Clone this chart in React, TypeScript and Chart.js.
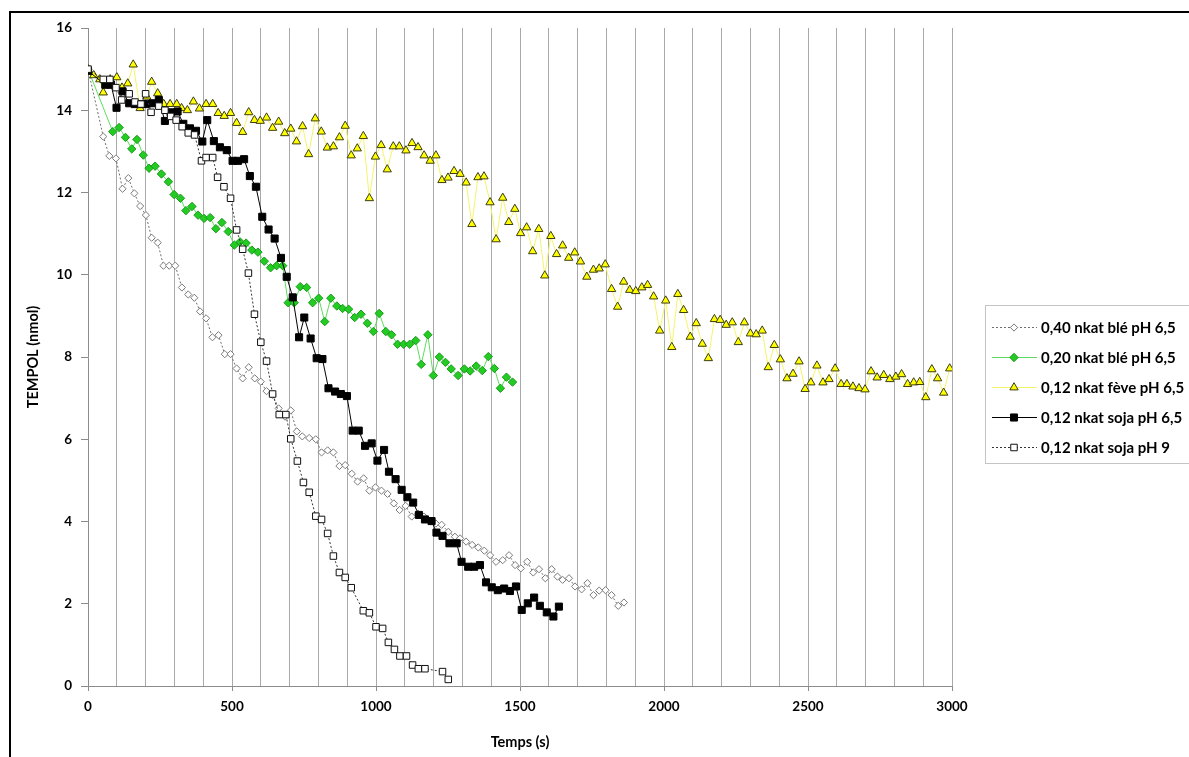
import React, { useEffect, useRef } from "react";
import { Chart, registerables } from "chart.js";

Chart.register(...registerables);

// [time (s), TEMPOL (nmol)]
const ble040: [number, number][] = [
  [0, 15.0], [53, 13.36], [74, 12.89], [97, 12.83], [120, 12.09], [140, 12.35], [161, 11.98], [181, 11.67],
  [201, 11.45], [221, 10.9], [242, 10.78], [262, 10.22], [282, 10.22], [303, 10.22], [326, 9.69], [348, 9.52],
  [369, 9.44], [389, 9.11], [410, 8.94], [432, 8.48], [453, 8.53], [475, 8.07], [495, 8.07], [516, 7.72],
  [537, 7.48], [558, 7.75], [579, 7.48], [600, 7.4], [620, 7.17], [641, 7.08], [662, 6.75], [684, 6.55],
  [704, 6.7], [725, 6.19], [744, 6.07], [768, 6.03], [791, 6.0], [811, 5.68], [832, 5.73], [852, 5.68],
  [873, 5.35], [893, 5.37], [916, 5.16], [936, 4.97], [957, 5.05], [977, 4.75], [998, 4.83], [1019, 4.75],
  [1040, 4.67], [1062, 4.44], [1082, 4.28], [1103, 4.38], [1124, 4.12], [1146, 4.19], [1167, 4.12], [1188, 4.01],
  [1208, 3.95], [1228, 3.92], [1251, 3.75], [1274, 3.63], [1292, 3.59], [1313, 3.51], [1334, 3.43], [1355, 3.37],
  [1376, 3.29], [1396, 3.18], [1417, 3.02], [1440, 3.06], [1462, 3.18], [1483, 2.94], [1503, 2.86], [1525, 3.02],
  [1546, 2.76], [1566, 2.84], [1588, 2.62], [1610, 2.84], [1630, 2.66], [1648, 2.58], [1670, 2.62], [1691, 2.42],
  [1714, 2.35], [1734, 2.5], [1755, 2.21], [1775, 2.32], [1797, 2.33], [1818, 2.21], [1841, 1.95], [1861, 2.03],
];

const ble020: [number, number][] = [
  [0, 15.0], [86, 13.48], [108, 13.58], [130, 13.34], [152, 13.06], [170, 13.29], [192, 12.91], [212, 12.59],
  [233, 12.64], [255, 12.45], [279, 12.26], [299, 11.95], [321, 11.86], [340, 11.56], [361, 11.66], [382, 11.45],
  [403, 11.37], [424, 11.39], [444, 11.12], [465, 11.27], [487, 11.05], [508, 10.72], [528, 10.8], [549, 10.77],
  [569, 10.6], [590, 10.55], [612, 10.33], [634, 10.17], [655, 10.22], [676, 10.22], [695, 9.32], [716, 9.32],
  [737, 9.71], [759, 9.69], [780, 9.32], [801, 9.43], [822, 8.86], [843, 9.43], [864, 9.24], [884, 9.18],
  [905, 9.16], [926, 8.96], [948, 9.04], [970, 8.82], [991, 8.62], [1011, 9.06], [1034, 8.62], [1054, 8.54],
  [1075, 8.31], [1096, 8.31], [1117, 8.31], [1138, 8.4], [1157, 7.82], [1180, 8.54], [1199, 7.55], [1220, 8.0],
  [1241, 7.87], [1261, 7.71], [1285, 7.55], [1307, 7.71], [1327, 7.66], [1348, 7.78], [1369, 7.67], [1390, 8.01],
  [1411, 7.72], [1432, 7.24], [1453, 7.51], [1474, 7.39],
];

const feve012: [number, number][] = [
  [0, 15.0], [20, 14.85], [41, 14.75], [53, 14.43], [77, 14.75], [100, 14.8], [118, 14.55], [138, 14.65],
  [157, 15.11], [181, 14.05], [204, 14.33], [221, 14.69], [242, 14.41], [263, 14.15], [285, 14.15], [308, 14.15],
  [325, 14.05], [345, 14.0], [366, 14.21], [387, 14.04], [410, 14.15], [433, 14.15], [452, 13.93], [473, 13.86],
  [495, 13.93], [516, 13.69], [537, 13.47], [558, 13.95], [578, 13.76], [598, 13.74], [620, 13.82], [641, 13.57],
  [662, 13.72], [683, 13.44], [704, 13.55], [724, 13.24], [745, 13.61], [766, 12.93], [789, 13.8], [810, 13.48],
  [831, 13.09], [852, 13.12], [873, 13.34], [893, 13.62], [914, 12.9], [935, 13.07], [956, 13.37], [977, 11.86],
  [998, 12.87], [1018, 13.15], [1039, 12.56], [1060, 13.12], [1081, 13.12], [1104, 13.02], [1125, 13.2], [1146, 13.1],
  [1167, 12.9], [1188, 12.77], [1208, 12.9], [1229, 12.3], [1250, 12.36], [1271, 12.52], [1292, 12.45], [1313, 12.24],
  [1333, 11.23], [1354, 12.37], [1375, 12.39], [1396, 11.76], [1417, 10.86], [1440, 11.87], [1461, 11.28], [1482, 11.6],
  [1502, 11.01], [1523, 11.15], [1544, 10.57], [1565, 11.11], [1586, 9.98], [1607, 10.94], [1627, 10.5], [1648, 10.71],
  [1669, 10.41], [1690, 10.54], [1710, 10.32], [1732, 9.95], [1755, 10.12], [1775, 10.15], [1796, 10.25], [1818, 9.65],
  [1839, 9.22], [1860, 9.83], [1881, 9.63], [1902, 9.6], [1923, 9.69], [1943, 9.75], [1964, 9.47], [1985, 8.64],
  [2006, 9.37], [2027, 8.24], [2048, 9.53], [2068, 9.14], [2091, 8.49], [2112, 8.82], [2133, 8.32], [2154, 7.97],
  [2175, 8.92], [2195, 8.9], [2216, 8.78], [2237, 8.84], [2258, 8.36], [2279, 8.84], [2300, 8.57], [2320, 8.55],
  [2341, 8.64], [2362, 7.75], [2383, 8.29], [2404, 7.94], [2427, 7.48], [2448, 7.59], [2469, 7.89], [2490, 7.22],
  [2510, 7.38], [2531, 7.79], [2552, 7.38], [2573, 7.46], [2594, 7.72], [2615, 7.34], [2635, 7.34], [2656, 7.28],
  [2677, 7.24], [2698, 7.21], [2719, 7.65], [2740, 7.5], [2763, 7.56], [2784, 7.46], [2805, 7.52], [2825, 7.58],
  [2846, 7.34], [2867, 7.38], [2888, 7.39], [2909, 7.02], [2930, 7.7], [2950, 7.48], [2971, 7.13], [2992, 7.72],
];

const soja65: [number, number][] = [
  [0, 14.96], [60, 14.62], [80, 14.62], [99, 14.06], [120, 14.46], [143, 14.17], [163, 14.15], [184, 14.15],
  [203, 14.15], [224, 14.17], [246, 14.25], [267, 13.74], [287, 13.95], [311, 13.97], [331, 13.67], [354, 13.56],
  [375, 13.5], [397, 13.24], [414, 13.76], [437, 13.25], [458, 13.1], [482, 13.03], [502, 12.77], [521, 12.77],
  [542, 12.81], [562, 12.4], [583, 12.14], [605, 11.41], [627, 11.1], [648, 10.88], [670, 10.41], [690, 9.95],
  [711, 9.45], [733, 8.48], [751, 8.96], [773, 8.45], [794, 7.97], [814, 7.95], [835, 7.24], [858, 7.16],
  [878, 7.1], [899, 7.05], [919, 6.21], [940, 6.21], [962, 5.84], [985, 5.9], [1005, 5.48], [1028, 5.74],
  [1045, 5.21], [1068, 5.03], [1089, 4.77], [1109, 4.59], [1129, 4.46], [1149, 4.16], [1170, 4.05], [1193, 4.01],
  [1210, 3.73], [1231, 3.65], [1255, 3.47], [1280, 3.47], [1297, 3.02], [1320, 2.9], [1341, 2.9], [1361, 2.94],
  [1382, 2.52], [1402, 2.4], [1423, 2.33], [1445, 2.37], [1465, 2.31], [1486, 2.42], [1506, 1.85], [1527, 2.01],
  [1549, 2.15], [1569, 1.95], [1593, 1.79], [1616, 1.69], [1635, 1.93],
];

const soja9: [number, number][] = [
  [0, 15.0], [53, 14.75], [76, 14.75], [97, 14.55], [117, 14.25], [143, 14.4], [163, 14.2], [184, 14.15],
  [200, 14.4], [219, 13.95], [246, 14.1], [267, 14.0], [287, 13.85], [306, 13.76], [327, 13.6], [348, 13.45],
  [370, 13.4], [394, 12.77], [410, 12.85], [433, 12.85], [450, 12.37], [472, 12.14], [495, 11.86], [516, 11.09],
  [537, 10.62], [557, 10.04], [578, 9.04], [600, 8.36], [620, 7.9], [641, 7.1], [664, 6.6], [687, 6.6],
  [704, 6.01], [727, 5.47], [748, 4.95], [768, 4.71], [791, 4.13], [811, 4.05], [832, 3.71], [852, 3.16],
  [873, 2.76], [893, 2.64], [914, 2.39], [956, 1.83], [977, 1.78], [1000, 1.44], [1023, 1.4], [1043, 1.06],
  [1064, 0.89], [1083, 0.73], [1106, 0.73], [1127, 0.51], [1147, 0.42], [1170, 0.42], [1231, 0.35], [1251, 0.16],
];

const seriesLabels = [
  "0,40 nkat blé pH 6,5",
  "0,20 nkat blé pH 6,5",
  "0,12 nkat fève pH 6,5",
  "0,12 nkat soja pH 6,5",
  "0,12 nkat soja pH 9",
];

const FONT = 'Lato, "Open Sans", "DejaVu Sans", sans-serif';

function drawMarker(ctx: CanvasRenderingContext2D, style: string, x: number, y: number, r: number, fill: string, stroke: string) {
  ctx.beginPath();
  if (style === "rect") {
    const s = Math.SQRT1_2 * r;
    ctx.rect(x - s, y - s, 2 * s, 2 * s);
  } else if (style === "rectRot") {
    ctx.moveTo(x, y - r);
    ctx.lineTo(x + r, y);
    ctx.lineTo(x, y + r);
    ctx.lineTo(x - r, y);
    ctx.closePath();
  } else if (style === "triangle") {
    for (let k = 0; k < 3; k++) {
      const a = (k * 2 * Math.PI) / 3;
      const px = x + Math.sin(a) * r;
      const py = y - Math.cos(a) * r;
      if (k === 0) ctx.moveTo(px, py);
      else ctx.lineTo(px, py);
    }
    ctx.closePath();
  }
  ctx.fillStyle = fill;
  ctx.fill();
  ctx.strokeStyle = stroke;
  ctx.lineWidth = 1;
  ctx.stroke();
}

const boxLegend = {
  id: "boxLegend",
  afterDraw(chart: any) {
    const ctx: CanvasRenderingContext2D = chart.ctx;
    ctx.save();
    ctx.fillStyle = "#ffffff";
    ctx.fillRect(985.5, 305.5, 215, 158);
    ctx.strokeStyle = "#c4c4c4";
    ctx.lineWidth = 1;
    ctx.strokeRect(985.5, 305.5, 215, 158);
    chart.data.datasets.forEach((ds: any, i: number) => {
      const y = 327 + i * 30;
      ctx.save();
      ctx.strokeStyle = ds.borderColor;
      ctx.lineWidth = ds.borderWidth;
      ctx.setLineDash(ds.borderDash || []);
      ctx.beginPath();
      ctx.moveTo(992, y + 0.5);
      ctx.lineTo(1037, y + 0.5);
      ctx.stroke();
      ctx.restore();
      drawMarker(ctx, ds.pointStyle, 1014, y + 0.5, ds.pointRadius, ds.pointBackgroundColor, ds.pointBorderColor);
      ctx.fillStyle = "#000";
      ctx.font = `bold 15px ${FONT}`;
      ctx.textAlign = "left";
      ctx.textBaseline = "middle";
      ctx.fillText(ds.label, 1041, y + 1);
    });
    ctx.restore();
  },
};

const toXY = (arr: [number, number][]) => arr.map(([x, y]) => ({ x, y }));

export default function App() {
  const ref = useRef<HTMLCanvasElement | null>(null);

  useEffect(() => {
    if (!ref.current) return;
    const tickFont = { family: FONT, size: 13.5, weight: "bold" as const };
    const titleFont = { family: FONT, size: 14.5, weight: "bold" as const };
    const chart = new Chart(ref.current, {
      type: "scatter",
      data: {
        datasets: [
          {
            label: seriesLabels[0],
            data: toXY(ble040),
            showLine: true,
            borderColor: "#6e6e6e",
            borderWidth: 1,
            borderDash: [2, 2],
            pointStyle: "rectRot",
            pointRadius: 3.6,
            pointBackgroundColor: "#ffffff",
            pointBorderColor: "#7a7a7a",
            pointBorderWidth: 1,
            order: 5,
          },
          {
            label: seriesLabels[1],
            data: toXY(ble020),
            showLine: true,
            borderColor: "#5fdc5f",
            borderWidth: 1,
            pointStyle: "rectRot",
            pointRadius: 4.2,
            pointBackgroundColor: "#22cc22",
            pointBorderColor: "#1a9a1a",
            pointBorderWidth: 1,
            order: 4,
          },
          {
            label: seriesLabels[2],
            data: toXY(feve012),
            showLine: true,
            borderColor: "#f4f46a",
            borderWidth: 1,
            pointStyle: "triangle",
            pointRadius: 4.8,
            pointBackgroundColor: "#ffff00",
            pointBorderColor: "#3c3c10",
            pointBorderWidth: 1,
            order: 3,
          },
          {
            label: seriesLabels[3],
            data: toXY(soja65),
            showLine: true,
            borderColor: "#000000",
            borderWidth: 1,
            pointStyle: "rect",
            pointRadius: 5,
            pointBackgroundColor: "#000000",
            pointBorderColor: "#000000",
            pointBorderWidth: 1,
            order: 2,
          },
          {
            label: seriesLabels[4],
            data: toXY(soja9),
            showLine: true,
            borderColor: "#333333",
            borderWidth: 1,
            borderDash: [2, 2],
            pointStyle: "rect",
            pointRadius: 4.6,
            pointBackgroundColor: "#ffffff",
            pointBorderColor: "#111111",
            pointBorderWidth: 1,
            order: 1,
          },
        ],
      },
      options: {
        responsive: false,
        animation: false,
        events: [],
        layout: { padding: { left: 21, right: 237, top: 28, bottom: 3 } },
        plugins: {
          legend: { display: false },
          tooltip: { enabled: false },
        },
        scales: {
          x: {
            type: "linear",
            min: 0,
            max: 3000,
            ticks: {
              stepSize: 100,
              autoSkip: false,
              maxRotation: 0,
              padding: 8,
              color: "#000",
              font: tickFont,
              callback: (v: any) => (Number(v) % 500 === 0 ? String(v) : ""),
            },
            grid: {
              color: (c: any) => (c.tick && c.tick.value === 0 ? "rgba(0,0,0,0)" : "#a9a9a9"),
              tickColor: (c: any) => (c.tick && c.tick.value % 500 === 0 ? "#8c8c8c" : "rgba(0,0,0,0)"),
              tickLength: 5,
              lineWidth: 1,
            },
            border: { color: "#8c8c8c", width: 1 },
            title: {
              display: true,
              text: "Temps (s)",
              color: "#000",
              font: titleFont,
              padding: { top: 4, bottom: 3 },
            },
            afterFit: (s: any) => {
              s.height = 68;
            },
          },
          y: {
            type: "linear",
            min: 0,
            max: 16,
            ticks: { stepSize: 2, padding: 9, color: "#000", font: tickFont },
            grid: { drawOnChartArea: false, tickLength: 7, color: "#8c8c8c" },
            border: { color: "#8c8c8c", width: 1 },
            title: {
              display: true,
              text: "TEMPOL (nmol)",
              color: "#000",
              font: titleFont,
              padding: { top: 4, bottom: 4 },
            },
            afterFit: (s: any) => {
              s.width = 67;
            },
          },
        },
      },
      plugins: [boxLegend],
    });
    return () => chart.destroy();
  }, []);

  return (
    <div style={{ position: "fixed", left: 0, top: 0, width: 1189, height: 757, background: "#fff", overflow: "hidden" }}>
      <div
        style={{
          position: "absolute",
          left: 9,
          top: 11,
          width: 1200,
          height: 800,
          borderLeft: "2px solid #000",
          borderTop: "2px solid #000",
        }}
      />
      <canvas ref={ref} width={1189} height={757} style={{ position: "absolute", left: 0, top: 0, display: "block" }} />
    </div>
  );
}
